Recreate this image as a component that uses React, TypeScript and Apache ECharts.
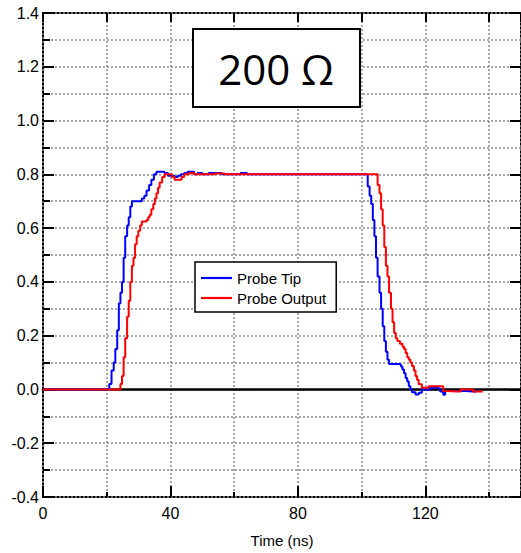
import React, { useEffect, useRef } from "react";
import * as echarts from "echarts";

// Probe Tip waveform: time (ns) and voltage (V)
const tipTimes = [
  0, 20.3, 20.8, 21.5, 22.2, 22.7, 23.3, 23.8, 24.3, 24.8, 25.3, 25.8, 26.4, 26.9, 27.4, 27.9,
  29.5, 31.0, 31.8, 32.5, 33.3, 34.0, 34.8, 35.6, 37.1, 38.1, 39.2, 41.3, 42.3, 43.3, 44.3,
  45.4, 46.4, 47.4, 48.5, 50.0, 52.0, 56.0, 62.0, 64.0, 100.9, 101.9, 102.5, 103.0, 103.5,
  104.0, 104.5, 105.0, 105.6, 106.1, 106.6, 107.1, 107.6, 108.1, 108.6, 111.7, 112.3, 112.8,
  113.3, 113.8, 114.3, 114.8, 115.3, 115.8, 116.9, 117.9, 118.9, 120.5, 121.5, 123.5, 124.6,
  125.6, 126.2, 132.7, 134.9, 136.0,
];
const tipValues = [
  0, 0, 0.02, 0.07, 0.1, 0.15, 0.22, 0.32, 0.36, 0.4, 0.49, 0.57, 0.61, 0.64, 0.68, 0.7,
  0.7, 0.71, 0.72, 0.74, 0.76, 0.78, 0.8, 0.81, 0.81, 0.805, 0.795, 0.79, 0.795, 0.8, 0.805,
  0.81, 0.81, 0.8, 0.805, 0.8, 0.805, 0.8, 0.805, 0.8, 0.8, 0.755, 0.72, 0.69, 0.63,
  0.57, 0.49, 0.42, 0.36, 0.3, 0.235, 0.18, 0.14, 0.11, 0.095, 0.093, 0.085, 0.074,
  0.06, 0.043, 0.03, 0.012, 0, -0.01, -0.019, -0.012, 0, 0, 0.006, 0.004, -0.008,
  -0.02, -0.006, -0.008, -0.008, 0,
];

// Probe Output waveform: time (ns) and voltage (V)
const outTimes = [
  0, 23.8, 24.3, 24.8, 25.3, 25.8, 26.4, 26.9, 27.4, 27.9, 28.4, 28.9, 29.4, 29.9, 30.5, 31.0,
  32.5, 33.0, 33.5, 34.0, 34.6, 35.1, 35.6, 36.1, 36.6, 37.4, 38.2, 39.7, 40.5, 41.3, 42.8,
  43.5, 44.3, 45.9, 47.4, 54.0, 57.0, 104.0, 105.0, 105.6, 106.1, 106.6, 107.1, 107.6, 108.1,
  108.6, 109.2, 109.7, 110.2, 110.7, 111.2, 112.0, 112.8, 113.3, 113.8, 114.3, 114.8, 115.3,
  115.8, 116.4, 116.9, 117.4, 117.9, 118.9, 120.0, 121.0, 124.6, 125.6, 126.5, 130.0, 131.0,
  135.0, 138.0,
];
const outValues = [
  0, 0, 0.02, 0.05, 0.12, 0.19, 0.27, 0.33, 0.4, 0.46, 0.49, 0.54, 0.57, 0.59, 0.61, 0.625,
  0.63, 0.64, 0.65, 0.67, 0.69, 0.71, 0.73, 0.75, 0.77, 0.79, 0.8, 0.8, 0.79, 0.78, 0.78,
  0.79, 0.8, 0.805, 0.8, 0.803, 0.8, 0.8, 0.76, 0.73, 0.67, 0.61, 0.53, 0.46, 0.42,
  0.36, 0.3, 0.25, 0.21, 0.19, 0.18, 0.17, 0.16, 0.15, 0.136, 0.12, 0.11, 0.1,
  0.087, 0.07, 0.05, 0.035, 0.019, 0.006, 0.006, 0.012, 0.012, -0.006, -0.008, -0.008, 0,
  -0.008, -0.008,
];

const seriesNames = ["Probe Tip", "Probe Output"];
const seriesColors = ["#0000ff", "#ff0000"];
const titleText = "200 Ω";
const xAxisName = "Time (ns)";

const X_MIN = 0;
const X_MAX = 150;
const Y_MIN = -0.4;
const Y_MAX = 1.4;

const zip = (xs: number[], ys: number[]) => xs.map((x, i) => [x, ys[i]]);

const FONT = "'Liberation Sans', Arial, sans-serif";
const dotted = { color: "#8a8a8a", width: 1.5, type: [2, 2] as number[] };
// a plain horizontal stroke used as the legend key
const LINE_ICON = "path://M0,0 L31,0 L31,2.2 L0,2.2 Z";

export default function App() {
  const ref = useRef<HTMLDivElement>(null);

  useEffect(() => {
    if (!ref.current) return;
    const chart = echarts.init(ref.current, undefined, { renderer: "svg" });

    const tick = (len: number) => ({
      show: true,
      inside: true,
      length: len,
      lineStyle: { color: "#000", width: 2 },
    });
    const xBase = { type: "value" as const, min: X_MIN, max: X_MAX, gridIndex: 0 };
    const yBase = { type: "value" as const, min: Y_MIN, max: Y_MAX, gridIndex: 0 };

    chart.setOption({
      animation: false,
      backgroundColor: "#fff",
      grid: {
        left: 43,
        top: 13,
        width: 485,
        height: 485,
        show: true,
        borderColor: "#000",
        borderWidth: 2,
        backgroundColor: "transparent",
      },
      legend: {
        data: seriesNames.map((name) => ({ name, icon: LINE_ICON })),
        orient: "vertical",
        left: 195,
        top: 262,
        padding: [7, 10, 5, 6],
        itemGap: 2,
        itemWidth: 31,
        itemHeight: 18,
        backgroundColor: "#fff",
        borderColor: "#000",
        borderWidth: 1.5,
        borderRadius: 0,
        textStyle: { fontFamily: FONT, fontSize: 15, color: "#000", lineHeight: 18 },
      },
      xAxis: [
        {
          ...xBase,
          position: "bottom",
          interval: 40,
          axisLine: { show: false, onZero: false },
          axisTick: tick(11),
          splitLine: { show: false },
          axisLabel: {
            fontFamily: FONT,
            fontSize: 16,
            color: "#000",
            margin: 8,
            showMaxLabel: false,
          },
          name: xAxisName,
          nameLocation: "middle",
          nameGap: 36,
          nameTextStyle: { fontFamily: FONT, fontSize: 15, color: "#000" },
        },
        {
          ...xBase,
          position: "bottom",
          interval: 20,
          axisLine: { show: false, onZero: false },
          axisTick: tick(5),
          axisLabel: { show: false },
          splitLine: { show: true, lineStyle: dotted },
        },
        {
          ...xBase,
          position: "top",
          interval: 20,
          axisLine: { show: false, onZero: false },
          axisTick: tick(9),
          axisLabel: { show: false },
          splitLine: { show: false },
        },
        {
          // solid reference line at 0 V, drawn above the traces
          ...xBase,
          position: "bottom",
          interval: 50,
          z: 3,
          axisLine: { show: true, onZero: true, onZeroAxisIndex: 0, lineStyle: { color: "#000", width: 2.6 } },
          axisTick: { show: false },
          axisLabel: { show: false },
          splitLine: { show: false },
        },
      ],
      yAxis: [
        {
          ...yBase,
          position: "left",
          interval: 0.2,
          axisLine: { show: false, onZero: false },
          axisTick: tick(11),
          splitLine: { show: false },
          axisLabel: {
            fontFamily: FONT,
            fontSize: 16,
            color: "#000",
            margin: 4,
            formatter: (v: number) => (Math.abs(v) < 1e-9 ? "0.0" : v.toFixed(1)),
          },
        },
        {
          ...yBase,
          position: "left",
          interval: 0.1,
          axisLine: { show: false, onZero: false },
          axisTick: tick(7),
          axisLabel: { show: false },
          splitLine: { show: true, lineStyle: dotted },
        },
        {
          ...yBase,
          position: "right",
          interval: 0.2,
          axisLine: { show: false, onZero: false },
          axisTick: tick(11),
          axisLabel: { show: false },
          splitLine: { show: false },
        },
      ],
      graphic: [
        {
          type: "rect",
          shape: { x: 193, y: 29, width: 167, height: 78 },
          style: { fill: "#fff", stroke: "#000", lineWidth: 2 },
          z: 10,
        },
        {
          type: "text",
          x: 276,
          y: 68,
          style: {
            text: titleText,
            fontFamily: "'Open Sans', sans-serif",
            fontSize: 42,
            fill: "#000",
            align: "center",
            verticalAlign: "middle",
          },
          z: 11,
        },
      ],
      series: [
        {
          name: seriesNames[0],
          type: "line",
          xAxisIndex: 0,
          yAxisIndex: 0,
          data: zip(tipTimes, tipValues),
          step: "end",
          symbol: "none",
          color: seriesColors[0],
          lineStyle: { color: seriesColors[0], width: 2 },
        },
        {
          name: seriesNames[1],
          type: "line",
          xAxisIndex: 0,
          yAxisIndex: 0,
          data: zip(outTimes, outValues),
          step: "end",
          symbol: "none",
          color: seriesColors[1],
          lineStyle: { color: seriesColors[1], width: 2 },
        },
      ],
    });

    return () => chart.dispose();
  }, []);

  return (
    <div
      ref={ref}
      style={{ position: "fixed", left: 0, top: 0, width: 521, height: 553 }}
    />
  );
}
